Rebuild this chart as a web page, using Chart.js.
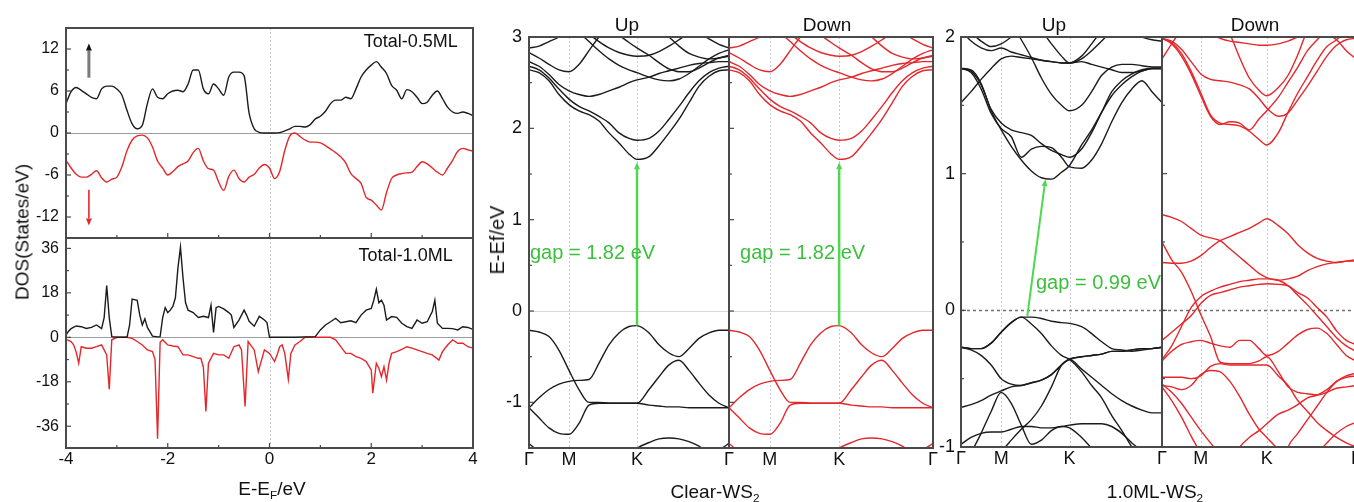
<!DOCTYPE html>
<html>
<head>
<meta charset="utf-8">
<script src="https://cdn.jsdelivr.net/npm/chart.js@4.4.1/dist/chart.umd.min.js"></script>
<style>
  body { margin: 0; width: 1354px; height: 502px; overflow: hidden; background: #fff; position: relative;
         font-family: "Liberation Sans", Arial, sans-serif; color: #111; }
  canvas { position: absolute; top: 0; }
  .t { position: absolute; white-space: nowrap; transform: translate(-50%, -50%); font-size: 19px; line-height: 1; }
  .rot { transform: translate(-50%, -50%) rotate(-90deg); }
  sub { font-size: 62%; vertical-align: -0.35em; line-height: 0; }
</style>
</head>
<body>
<canvas id="dosTop" width="480" height="262"></canvas>
<canvas id="dosBot" width="480" height="286" style="top:216px"></canvas>
<canvas id="clearUp" width="250" height="502" style="left:490px"></canvas>
<canvas id="clearDn" width="230" height="502" style="left:720px"></canvas>
<canvas id="mlUp" width="250" height="502" style="left:920px"></canvas>
<canvas id="mlDn" width="220" height="502" style="left:1153px"></canvas>

<div class="t rot" style="left:22px;top:232px">DOS(States/eV)</div>
<div class="t" style="left:272px;top:488px">E-E<sub>F</sub>/eV</div>
<div class="t rot" style="left:497px;top:240px;font-size:20px">E-Ef/eV</div>
<div class="t" style="left:627px;top:24px">Up</div>
<div class="t" style="left:827px;top:24px">Down</div>
<div class="t" style="left:1054px;top:24px">Up</div>
<div class="t" style="left:1255px;top:24px">Down</div>
<div class="t" style="left:715px;top:491px">Clear-WS<sub>2</sub></div>
<div class="t" style="left:1155px;top:491px">1.0ML-WS<sub>2</sub></div>

<script>
// ---- DOS, 0.5 ML (step 0.1 eV)
const dos05E = [-4,-3.9,-3.8,-3.7,-3.6,-3.5,-3.4,-3.3,-3.2,-3.1,-3,-2.9,-2.8,-2.7,-2.6,-2.5,-2.4,-2.3,-2.2,-2.1,
  -2,-1.9,-1.8,-1.7,-1.6,-1.5,-1.4,-1.3,-1.2,-1.1,-1,-0.9,-0.8,-0.7,-0.6,-0.5,-0.4,-0.3,-0.2,-0.1,
  0,0.1,0.2,0.3,0.4,0.5,0.6,0.7,0.8,0.9,1,1.1,1.2,1.3,1.4,1.5,1.6,1.7,1.8,1.9,
  2,2.1,2.2,2.3,2.4,2.5,2.6,2.7,2.8,2.9,3,3.1,3.2,3.3,3.4,3.5,3.6,3.7,3.8,3.9,4];
const dos05Up = [4.2,5.9,6.5,6.1,5.6,5.1,4.9,6.3,6.7,6.7, 6.3,5.4,3.2,1.3,0.6,1.1,4.2,6.3,5.1,4.9,
  5.6,6.0,6.1,5.9,7.0,9.0,9.0,6.3,5.6,7.0, 6.3,5.4,8.0,8.7,8.7,8.2,2.8,0.6,0.1,0,
  0,0,0.05,0.3,0.6,0.95,0.95,0.85,1.2,2.0, 2.4,3.1,4.2,4.7,4.7,5.1,4.9,6.3,8.0,9.0,
  9.7,10.2,9.4,8.5,6.8,6.1,4.9,6.2,5.9,5.1, 4.2,4.4,5.4,6.0,4.9,3.7,3.0,2.8,3.0,2.8, 2.5];
const dos05Dn = [-3.9,-5.0,-5.9,-6.3,-6.3,-5.9,-5.4,-6.4,-7.0,-6.6, -6.3,-4.8,-2.5,-1.0,-0.4,-0.3,-0.7,-2.0,-4.0,-5.0,
  -6.0,-5.5,-4.8,-4.4,-4.0,-2.8,-2.2,-4.0,-5.1,-5.3, -7.0,-8.2,-6.2,-5.3,-6.5,-7.0,-6.3,-5.9,-5.0,-4.5,
  -5.0,-6.5,-5.5,-2.5,-0.4,0,-0.5,-1.0,-1.3,-1.3, -1.4,-1.8,-2.3,-2.8,-3.4,-4.3,-5.8,-6.5,-7.2,-9.2,
  -9.6,-10.3,-11.0,-8.5,-6.5,-6.0,-5.8,-5.7,-5.6,-4.8, -4.1,-4.4,-5.0,-5.6,-6.0,-5.0,-3.9,-2.6,-2.2,-2.4, -2.6];

// ---- DOS, 1.0 ML (spiky, uneven energy points)
const dos10UpE = [-4,-3.95,-3.9,-3.8,-3.7,-3.6,-3.5,-3.4,-3.3,-3.25,-3.2,-3.15,-3.1,-3,-2.9,-2.8,-2.75,-2.7,-2.6,-2.55,
  -2.5,-2.45,-2.4,-2.3,-2.2,-2.15,-2.1,-2.05,-2,-1.95,-1.9,-1.85,-1.8,-1.75,-1.7,-1.65,-1.6,-1.5,-1.4,-1.3,
  -1.2,-1.15,-1.1,-1.05,-1,-0.9,-0.8,-0.75,-0.7,-0.6,-0.5,-0.45,-0.4,-0.3,-0.2,-0.1,-0.05,0,0.5,0.9,
  1,1.1,1.2,1.3,1.4,1.5,1.6,1.7,1.8,1.9,2,2.05,2.1,2.15,2.2,2.25,2.3,2.4,2.5,2.6,
  2.7,2.8,2.9,3,3.1,3.2,3.25,3.3,3.4,3.5,3.6,3.7,3.8,3.9,4];
const dos10Up = [0.9,2.5,3.5,4.6,4.3,3.6,4.0,5.0,3.5,8, 21,8,0.3,0,0,0,5,15.5,15,9,
  5,7.5,4,0.5,0.2,0.3,8,12,10,11, 12.5,16,28,36.5,24,14,11,10,8,8.5,
  8,13,2,12,12.5,11.5,10,9,4,7, 11,9,6.5,4.5,8.5,7,6,0,0,0.3,
  3,5,6.3,7.7,5.9,6.3,6.7,5.9,9,11, 11.7,15,19.5,14,15,13,7,8.4,8.1,5.7,
  4.3,3.6,7,5.7,6.3,10.4,15,5.7,3.6,3.6, 3.5,3,4.3,4,3.2];
const dos10DnE = [-4,-3.9,-3.85,-3.8,-3.75,-3.7,-3.6,-3.5,-3.4,-3.3,-3.2,-3.15,-3.1,-3,-2.8,-2.7,-2.6,-2.5,-2.4,-2.3,
  -2.25,-2.2,-2.15,-2.1,-2,-1.9,-1.8,-1.7,-1.6,-1.5,-1.4,-1.35,-1.3,-1.25,-1.2,-1.1,-1,-0.9,-0.8,-0.7,
  -0.6,-0.55,-0.48,-0.42,-0.3,-0.22,-0.1,0,0.1,0.15,0.2,0.25,0.3,0.37,0.42,0.5,0.6,0.7,1.2,1.3,
  1.4,1.5,1.6,1.7,1.8,1.9,2,2.03,2.1,2.15,2.2,2.25,2.3,2.35,2.4,2.5,2.6,2.7,2.8,2.9,
  3,3.1,3.2,3.33,3.4,3.5,3.6,3.7,3.8,3.9,4];
const dos10Dn = [-0.8,-1.7,-3,-6,-10.5,-3.8,-4.4,-4.4,-3.8,-3.1, -7.1,-21,-1,0,0,-0.4,-1.7,-3.1,-5.1,-5.8,
  -9,-41,-2,-1,-3.1,-3.5,-3.8,-7.1,-7.1,-7.8, -8.5,-8.5,-12,-30,-10.5,-6.5,-7.1,-7.1,-8.5,-3.8,
  -3.1,-5.1,-28,-1.7,-5.1,-13.9,-5.1,-6.5,-9.8,-7.1, -3.8,-3.1,-6.5,-17,-6.5,-3.1,-1.7,0,0,-1,
  -3.8,-6.5,-6.5,-7.8,-8.5,-9.8,-13.2,-22.6,-10.5,-12.5, -15.9,-11.9,-17.3,-10.5,-6.5,-5.8,-4.9,-3.8,-4.4,-5.1,
  -5.8,-6.5,-7.1,-9.2,-5.8,-3.1,-1,-2.4,-2.4,-3.8, -4.4];
const spinArrowE = [-3.55, -3.55];
const spinUpV = [7.9, 12.8];
const spinDnV = [-8.1, -13.2];

// ---- band structures: k along Γ-M-K-Γ (fraction of path)
const kPath = [0,0.05,0.1,0.15,0.2,0.25,0.3,0.35,0.4,0.45,0.5,0.54,0.6,0.65,0.7,0.75,0.8,0.85,0.9,0.95,1];
const kTicks = [0, 0.2, 0.54, 1];
const kLabels = ['Γ', 'M', 'K', 'Γ'];
const kLabelsNoFirst = ['', 'M', 'K', 'Γ'];

// Clear WS2 (spin up and down identical)
const clearVB1 = [-0.21,-0.23,-0.28,-0.43,-0.65,-0.86,-1.0,-1.0,-1.01,-1.01,-1.01,-1.01,-1.03,-1.04,-1.05,-1.05,-1.06,-1.06,-1.06,-1.06,-1.06];
const clearVB2 = [-1.06,-0.95,-0.86,-0.8,-0.77,-0.76,-0.75,-0.57,-0.37,-0.24,-0.17,-0.16,-0.24,-0.37,-0.46,-0.5,-0.41,-0.3,-0.24,-0.21,-0.21];
const clearVB3 = [-1.06,-1.17,-1.28,-1.34,-1.35,-1.23,-1.03,-1.01,-1.01,-1.01,-1.01,-1.01,-0.86,-0.72,-0.59,-0.54,-0.65,-0.79,-0.92,-1.01,-1.06];
const clearVB4 = [-1.45,-1.55,-1.7,-1.8,-1.9,-1.95,-1.95,-1.9,-1.8,-1.65,-1.55,-1.5,-1.44,-1.4,-1.39,-1.4,-1.43,-1.48,-1.55,-1.52,-1.45];
const clearCB1 = [2.64,2.61,2.52,2.37,2.26,2.19,2.15,2.08,1.95,1.84,1.72,1.66,1.69,1.81,1.95,2.1,2.28,2.46,2.57,2.63,2.64];
const clearCB2 = [2.68,2.64,2.55,2.43,2.32,2.24,2.19,2.13,2.06,1.95,1.89,1.87,1.89,1.97,2.1,2.24,2.39,2.52,2.61,2.66,2.68];
const clearCB3 = [2.73,2.68,2.59,2.48,2.41,2.37,2.35,2.37,2.41,2.45,2.5,2.53,2.56,2.6,2.63,2.66,2.69,2.71,2.72,2.73,2.73];
const clearCB4 = [2.83,2.77,2.7,2.64,2.62,2.7,2.85,3.0,3.1,3.2,3.25,3.25,3.2,3.1,3.0,2.9,2.82,2.78,2.76,2.77,2.8];
const clearCB5 = [3.4,3.35,3.3,3.25,3.15,3.05,2.95,2.85,2.76,2.69,2.64,2.61,2.56,2.53,2.52,2.54,2.6,2.68,2.76,2.82,2.86];
const clearCB6 = [3.6,3.5,3.4,3.3,3.2,3.1,3.03,2.95,2.88,2.83,2.8,2.79,2.8,2.84,2.9,2.97,3.05,3.1,3.15,3.2,3.25];
const clearCB7 = [3.6,3.55,3.5,3.45,3.4,3.35,3.3,3.2,3.1,3.02,2.94,2.88,2.8,2.72,2.65,2.62,2.62,2.66,2.72,2.77,2.79];
const clearCB8 = [2.88,2.9,2.95,3.0,3.1,3.2,3.3,3.4,3.45,3.5,3.5,3.5,3.45,3.4,3.3,3.2,3.1,3.05,2.98,2.92,2.88];
const clearGapK = [0.54, 0.54];
const clearGapE = [-0.16, 1.63];

// 1.0ML WS2, spin up
const mlUpVB1 = [-0.27,-0.28,-0.28,-0.24,-0.16,-0.09,-0.05,-0.05,-0.06,-0.08,-0.09,-0.095,-0.12,-0.17,-0.23,-0.28,-0.29,-0.3,-0.29,-0.28,-0.27];
const mlUpVB2 = [-0.27,-0.29,-0.33,-0.4,-0.5,-0.54,-0.55,-0.53,-0.51,-0.47,-0.4,-0.355,-0.34,-0.33,-0.32,-0.3,-0.3,-0.29,-0.28,-0.28,-0.27];
const mlUpVB3 = [-0.71,-0.69,-0.66,-0.62,-0.59,-0.56,-0.55,-0.53,-0.51,-0.47,-0.4,-0.36,-0.43,-0.49,-0.55,-0.61,-0.66,-0.7,-0.73,-0.75,-0.75];
const mlUpVB4 = [-0.27,-0.28,-0.28,-0.24,-0.16,-0.09,-0.05,-0.1,-0.17,-0.26,-0.33,-0.36,-0.45,-0.55,-0.64,-0.77,-0.88,-1.0,-1.1,-1.2,-1.3];
const mlUpVB5 = [-1.25,-1.05,-0.9,-0.74,-0.6,-0.68,-0.84,-0.98,-0.95,-0.88,-0.85,-0.86,-0.93,-1.01,-1.1,-1.2,-1.3,-1.4,-1.5,-1.6,-1.7];
const mlUpVB6 = [-1.6,-1.45,-1.3,-1.17,-1.04,-0.95,-0.87,-0.8,-0.7,-0.56,-0.4,-0.36,-0.34,-0.33,-0.32,-0.3,-0.3,-0.29,-0.28,-0.28,-0.27];
const mlUpVB7 = [-0.98,-0.93,-0.9,-0.89,-0.89,-0.87,-0.85,-0.85,-0.86,-0.86,-0.85,-0.84,-0.83,-0.83,-0.83,-0.85,-0.9,-0.97,-1.03,-1.1,-1.15];
const mlUpCB1 = [1.77,1.76,1.66,1.46,1.32,1.2,1.1,1.02,0.97,0.96,1.01,1.06,1.21,1.32,1.45,1.57,1.65,1.71,1.75,1.77,1.77];
const mlUpCB2 = [1.77,1.75,1.65,1.47,1.37,1.32,1.3,1.28,1.22,1.17,1.14,1.12,1.18,1.3,1.45,1.6,1.68,1.73,1.76,1.77,1.77];
const mlUpCB3 = [1.77,1.74,1.62,1.44,1.33,1.27,1.12,1.18,1.2,1.19,1.12,1.05,1.04,1.1,1.22,1.38,1.52,1.62,1.68,1.6,1.52];
const mlUpCB4 = [1.52,1.6,1.69,1.77,1.84,1.86,1.85,1.84,1.83,1.82,1.81,1.81,1.82,1.8,1.78,1.76,1.74,1.74,1.75,1.77,1.77];
const mlUpCB5 = [2.4,2.35,2.3,2.25,2.18,2.1,1.98,1.85,1.7,1.58,1.5,1.46,1.5,1.6,1.72,1.78,1.8,1.8,1.79,1.78,1.78];
const mlUpCB6 = [2.05,1.97,1.92,1.9,1.92,1.89,1.87,1.85,1.83,1.82,1.81,1.81,1.84,1.9,1.97,2.05,2.12,2.18,2.22,2.25,2.27];
const mlUpCB7 = [2.6,2.55,2.5,2.45,2.4,2.32,2.24,2.15,2.05,1.95,1.86,1.81,1.86,1.95,2.05,2.15,2.22,2.28,2.32,2.35,2.37];
const mlUpCB8 = [2.0,2.02,1.97,1.93,1.95,2.0,2.06,2.12,2.18,2.22,2.25,2.26,2.25,2.22,2.18,2.12,2.07,2.03,2.0,1.98,1.97];
const mlGapK = [0.33, 0.42];
const mlGapE = [-0.04, 0.96];

// 1.0ML WS2, spin down
const mlDnB1 = [0.35,0.345,0.345,0.36,0.4,0.46,0.51,0.54,0.57,0.6,0.64,0.67,0.62,0.56,0.48,0.42,0.38,0.36,0.35,0.36,0.37];
const mlDnB2 = [0.5,0.37,0.28,0.14,-0.03,-0.19,-0.38,-0.39,-0.39,-0.39,-0.37,-0.34,-0.45,-0.56,-0.6,-0.61,-0.62,-0.6,-0.57,-0.56,-0.55];
const mlDnB3 = [-0.22,-0.16,-0.1,-0.04,0.05,0.11,0.13,0.15,0.17,0.18,0.19,0.195,0.19,0.18,0.13,0.09,0.02,-0.05,-0.15,-0.22,-0.25];
const mlDnB4 = [-0.36,-0.26,-0.12,0.02,0.1,0.14,0.17,0.19,0.21,0.22,0.23,0.23,0.22,0.18,0.11,0.04,-0.04,-0.12,-0.2,-0.26,-0.3];
const mlDnB5 = [-0.37,-0.3,-0.25,-0.23,-0.22,-0.24,-0.26,-0.27,-0.22,-0.22,-0.28,-0.33,-0.3,-0.24,-0.18,-0.14,-0.13,-0.17,-0.25,-0.33,-0.37];
const mlDnB6 = [-0.49,-0.49,-0.49,-0.5,-0.48,-0.41,-0.39,-0.4,-0.4,-0.4,-0.4,-0.4,-0.48,-0.55,-0.66,-0.74,-0.82,-0.88,-0.93,-0.97,-1.0];
const mlDnB7 = [-1.8,-1.7,-1.6,-1.5,-1.4,-1.3,-1.2,-1.1,-1.0,-0.93,-0.88,-0.83,-0.76,-0.73,-0.69,-0.64,-0.62,-0.58,-0.52,-0.49,-0.48];
const mlDnB8 = [-0.55,-0.56,-0.58,-0.55,-0.47,-0.44,-0.45,-0.52,-0.63,-0.76,-0.87,-0.93,-1.02,-1.1,-1.2,-1.3,-1.4,-1.5,-1.6,-1.7,-1.8];
const mlDnB9 = [-0.54,-0.6,-0.68,-0.78,-0.88,-0.97,-1.06,-1.15,-1.25,-1.35,-1.45,-1.5,-1.45,-1.35,-1.25,-1.15,-1.05,-0.97,-0.9,-0.85,-0.82];
const mlDnB10 = [-0.56,-0.66,-0.78,-0.92,-1.05,-1.2,-1.35,-1.5,-1.6,-1.6,-1.5,-1.4,-1.25,-1.0,-0.9,-0.8,-0.7,-0.6,-0.52,-0.48,-0.46];
const mlDnB11 = [0.7,0.68,0.65,0.6,0.55,0.53,0.51,0.45,0.39,0.33,0.27,0.24,0.22,0.23,0.25,0.29,0.32,0.34,0.35,0.36,0.36];
const mlDnC1 = [1.99,1.96,1.88,1.75,1.59,1.43,1.37,1.36,1.35,1.31,1.25,1.21,1.3,1.45,1.59,1.71,1.83,1.93,1.98,2.05,2.1];
const mlDnC2 = [1.99,1.97,1.91,1.82,1.73,1.69,1.68,1.67,1.65,1.62,1.55,1.48,1.42,1.445,1.54,1.64,1.75,1.86,1.94,1.98,1.99];
const mlDnC3 = [1.99,1.95,1.86,1.73,1.57,1.42,1.36,1.38,1.37,1.32,1.4,1.46,1.56,1.67,1.78,1.9,1.98,2.05,2.1,2.12,2.1];
const mlDnC4 = [2.45,2.42,2.38,2.33,2.27,2.2,2.12,2.02,1.85,1.7,1.61,1.57,1.63,1.72,1.87,2.05,2.15,2.22,2.28,2.32,2.35];
const mlDnC5 = [1.84,1.95,2.05,2.1,2.08,2.03,1.99,1.97,1.96,1.95,1.94,1.94,1.95,1.97,2.0,2.03,2.04,2.02,1.98,1.9,1.84];

const BLACK = '#1b1b1b', RED = '#e5262b', GREEN = '#4fd84f', GREEN_TXT = '#3cbf3c';

Chart.defaults.font.family = '"Liberation Sans", Arial, sans-serif';
Chart.defaults.color = '#111';

function drawArrow(ctx, x0, y0, x1, y1, color, w, head, headColor) {
  const ang = Math.atan2(y1 - y0, x1 - x0);
  const bx = x1 - head * Math.cos(ang), by = y1 - head * Math.sin(ang);
  ctx.strokeStyle = color; ctx.lineWidth = w;
  ctx.beginPath(); ctx.moveTo(x0, y0); ctx.lineTo(bx, by); ctx.stroke();
  const hw = head * 0.42;
  ctx.fillStyle = headColor || color;
  ctx.beginPath(); ctx.moveTo(x1, y1);
  ctx.lineTo(bx + hw * Math.sin(ang), by - hw * Math.cos(ang));
  ctx.lineTo(bx - hw * Math.sin(ang), by + hw * Math.cos(ang));
  ctx.closePath(); ctx.fill();
}

// guide lines, frame, inward ticks, arrows and labels
const deco = {
  id: 'deco',
  beforeDatasetsDraw(chart, args, o) {
    const { ctx, chartArea: a, scales: { x, y } } = chart;
    ctx.save();
    ctx.beginPath(); ctx.rect(a.left, a.top, a.width, a.height); ctx.clip();
    (o.guides || []).forEach(g => {
      ctx.strokeStyle = g.color; ctx.lineWidth = g.width || 1; ctx.setLineDash(g.dash || []);
      ctx.beginPath();
      if (g.x !== undefined) { const px = Math.round(x.getPixelForValue(g.x)) + 0.5; ctx.moveTo(px, a.top); ctx.lineTo(px, a.bottom); }
      else { const py = Math.round(y.getPixelForValue(g.y)) + 0.5; ctx.moveTo(a.left, py); ctx.lineTo(a.right, py); }
      ctx.stroke();
    });
    ctx.restore();
  },
  afterDatasetsDraw(chart, args, o) {
    const { ctx, chartArea: a, scales: { x, y } } = chart;
    ctx.save();
    ctx.setLineDash([]);
    (o.arrows || []).forEach(r => {
      drawArrow(ctx, x.getPixelForValue(r.x[0]), y.getPixelForValue(r.y[0]),
        x.getPixelForValue(r.x[1]), y.getPixelForValue(r.y[1]), r.color, r.width, r.head, r.headColor);
    });
    (o.texts || []).forEach(t => {
      ctx.fillStyle = t.color; ctx.font = t.size + 'px "Liberation Sans", Arial, sans-serif';
      ctx.textAlign = t.align; ctx.textBaseline = 'middle';
      ctx.fillText(t.text, x.getPixelForValue(t.x), y.getPixelForValue(t.y));
    });
    ctx.strokeStyle = '#474747'; ctx.lineWidth = 1.2;
    const tick = (vals, len, isY) => vals.forEach(v => {
      ctx.beginPath();
      if (isY) { const py = y.getPixelForValue(v); ctx.moveTo(a.left, py); ctx.lineTo(a.left + len, py); }
      else { const px = x.getPixelForValue(v); ctx.moveTo(px, a.bottom); ctx.lineTo(px, a.bottom - len); }
      ctx.stroke();
    });
    tick(o.yMajor || [], 5, true); tick(o.yMinor || [], 3, true);
    tick(o.xMajor || [], 5, false); tick(o.xMinor || [], 3, false);
    ctx.strokeStyle = '#4a4a4a'; ctx.lineWidth = 2;
    ctx.strokeRect(a.left, a.top, a.width, a.height);
    ctx.restore();
  }
};

function axisX(min, max, ticks, labels, size, h, pad) {
  if (!labels) return { type: 'linear', min, max, display: false };
  return {
    type: 'linear', min, max,
    afterBuildTicks: s => { s.ticks = ticks.map(v => ({ value: v })); },
    ticks: { callback: (v, i) => labels[i], font: { size }, padding: pad, maxRotation: 0, autoSkip: false, color: '#111' },
    grid: { display: false, drawTicks: false }, border: { display: false },
    afterFit: s => { s.height = h; }
  };
}
function axisY(min, max, ticks, size, w, pad, show) {
  return {
    type: 'linear', min, max, display: show,
    afterBuildTicks: s => { s.ticks = ticks.map(v => ({ value: v })); },
    ticks: { callback: v => String(v), font: { size }, padding: pad, color: '#111' },
    grid: { display: false, drawTicks: false }, border: { display: false },
    afterFit: s => { s.width = w; }
  };
}
function line(xs, ys, color, smooth) {
  return {
    data: xs.map((v, i) => ({ x: v, y: ys[i] })),
    borderColor: color, borderWidth: 1.4, pointRadius: 0, fill: false,
    cubicInterpolationMode: smooth ? 'monotone' : 'default', tension: 0
  };
}
function makeChart(id, datasets, scales, padding, opts) {
  return new Chart(document.getElementById(id), {
    type: 'line',
    data: { datasets },
    options: {
      responsive: false, animation: false, events: [],
      layout: { padding, autoPadding: false },
      scales,
      plugins: { legend: { display: false }, tooltip: { enabled: false }, deco: opts }
    },
    plugins: [deco]
  });
}

const dosGuides = [{ x: 0, color: '#c9c9c9', dash: [2, 2] }, { y: 0, color: '#9c9c9c', width: 1.2 }];
const eMajor = [-4, -2, 0, 2, 4], eMinor = [-3, -1, 1, 3];

makeChart('dosTop',
  [line(dos05E, dos05Up, BLACK, true), line(dos05E, dos05Dn, RED, true)],
  { x: axisX(-4, 4), y: axisY(-15, 15, [12, 6, 0, -6, -12], 16, 66, 7, true) },
  { top: 28, right: 7, bottom: 24, left: 0 },
  { guides: dosGuides, yMajor: [12, 6, 0, -6, -12], yMinor: [9, 3, -3, -9], xMajor: eMajor, xMinor: eMinor,
    texts: [{ x: 3.7, y: 13, text: 'Total-0.5ML', align: 'right', color: '#111', size: 18 }],
    arrows: [{ x: spinArrowE, y: spinUpV, color: '#7a7a7a', width: 3, head: 7, headColor: '#111' },
             { x: spinArrowE, y: spinDnV, color: '#e8262b', width: 1.6, head: 7 }] });

makeChart('dosBot',
  [line(dos10UpE, dos10Up, BLACK, false), line(dos10DnE, dos10Dn, RED, false)],
  { x: axisX(-4, 4, eMajor, ['-4', '-2', '0', '2', '4'], 17, 54, 1),
    y: axisY(-44.8, 40.2, [36, 18, 0, -18, -36], 16, 66, 7, true) },
  { top: 22, right: 7, bottom: 0, left: 0 },
  { guides: dosGuides, yMajor: [36, 18, 0, -18, -36], yMinor: [27, 9, -9, -27], xMajor: eMajor, xMinor: eMinor,
    texts: [{ x: 3.6, y: 32.9, text: 'Total-1.0ML', align: 'right', color: '#111', size: 18 }] });

const clearBands = [clearVB1, clearVB2, clearVB3, clearVB4, clearCB1, clearCB2, clearCB3, clearCB4, clearCB5, clearCB6, clearCB7, clearCB8];
const mlUpBands = [mlUpVB1, mlUpVB2, mlUpVB3, mlUpVB4, mlUpVB5, mlUpVB6, mlUpVB7, mlUpCB1, mlUpCB2, mlUpCB3, mlUpCB4, mlUpCB5, mlUpCB6, mlUpCB7, mlUpCB8];
const mlDnBands = [mlDnB1, mlDnB2, mlDnB3, mlDnB4, mlDnB5, mlDnB6, mlDnB7, mlDnB8, mlDnB9, mlDnB10, mlDnB11, mlDnC1, mlDnC2, mlDnC3, mlDnC4, mlDnC5];

const symGuides = [{ x: 0.2, color: '#c7c8e6', dash: [2, 2] }, { x: 0.54, color: '#c7c8e6', dash: [2, 2] }];
const clearGuides = symGuides.concat([{ y: 0, color: '#d6d6e4' }]);
const mlGuides = symGuides.concat([{ y: 0, color: '#6f6f6f', width: 1.5, dash: [3, 3] }]);
const clearTicks = { yMajor: [-1, 0, 1, 2, 3], yMinor: [-0.5, 0.5, 1.5, 2.5] };
const mlTicks = { yMajor: [-1, 0, 1, 2], yMinor: [-0.5, 0.5, 1.5] };

makeChart('clearUp', clearBands.map(b => line(kPath, b, BLACK, true)),
  { x: axisX(0, 1, kTicks, kLabels, 18, 54, 1), y: axisY(-1.5, 3, [3, 2, 1, 0, -1], 18, 39, 7, true) },
  { top: 37, right: 11, bottom: 0, left: 0 },
  Object.assign({ guides: clearGuides,
    arrows: [{ x: clearGapK, y: clearGapE, color: GREEN, width: 2.5, head: 7 }],
    texts: [{ x: 0.005, y: 0.63, text: 'gap = 1.82 eV', align: 'left', color: GREEN_TXT, size: 20 }] }, clearTicks));

makeChart('clearDn', clearBands.map(b => line(kPath, b, RED, true)),
  { x: axisX(0, 1, kTicks, kLabelsNoFirst, 18, 54, 1), y: axisY(-1.5, 3, [], 18, 0, 0, false) },
  { top: 37, right: 17, bottom: 0, left: 9 },
  Object.assign({ guides: clearGuides,
    arrows: [{ x: clearGapK, y: clearGapE, color: GREEN, width: 2.5, head: 7 }],
    texts: [{ x: 0.054, y: 0.63, text: 'gap = 1.82 eV', align: 'left', color: GREEN_TXT, size: 20 }] }, clearTicks));

makeChart('mlUp', mlUpBands.map(b => line(kPath, b, BLACK, true)),
  { x: axisX(0, 1, kTicks, kLabels, 18, 55, 1), y: axisY(-1, 2, [2, 1, 0, -1], 18, 41, 6, true) },
  { top: 37, right: 8, bottom: 0, left: 0 },
  Object.assign({ guides: mlGuides,
    arrows: [{ x: mlGapK, y: mlGapE, color: GREEN, width: 2, head: 7 }],
    texts: [{ x: 0.373, y: 0.2, text: 'gap = 0.99 eV', align: 'left', color: GREEN_TXT, size: 20 }] }, mlTicks));

makeChart('mlDn', mlDnBands.map(b => line(kPath, b, RED, true)),
  { x: axisX(0, 1, kTicks, kLabelsNoFirst, 18, 55, 1), y: axisY(-1, 2, [], 18, 0, 0, false) },
  { top: 37, right: 17, bottom: 0, left: 9 },
  Object.assign({ guides: mlGuides }, mlTicks));
</script>
</body>
</html>
